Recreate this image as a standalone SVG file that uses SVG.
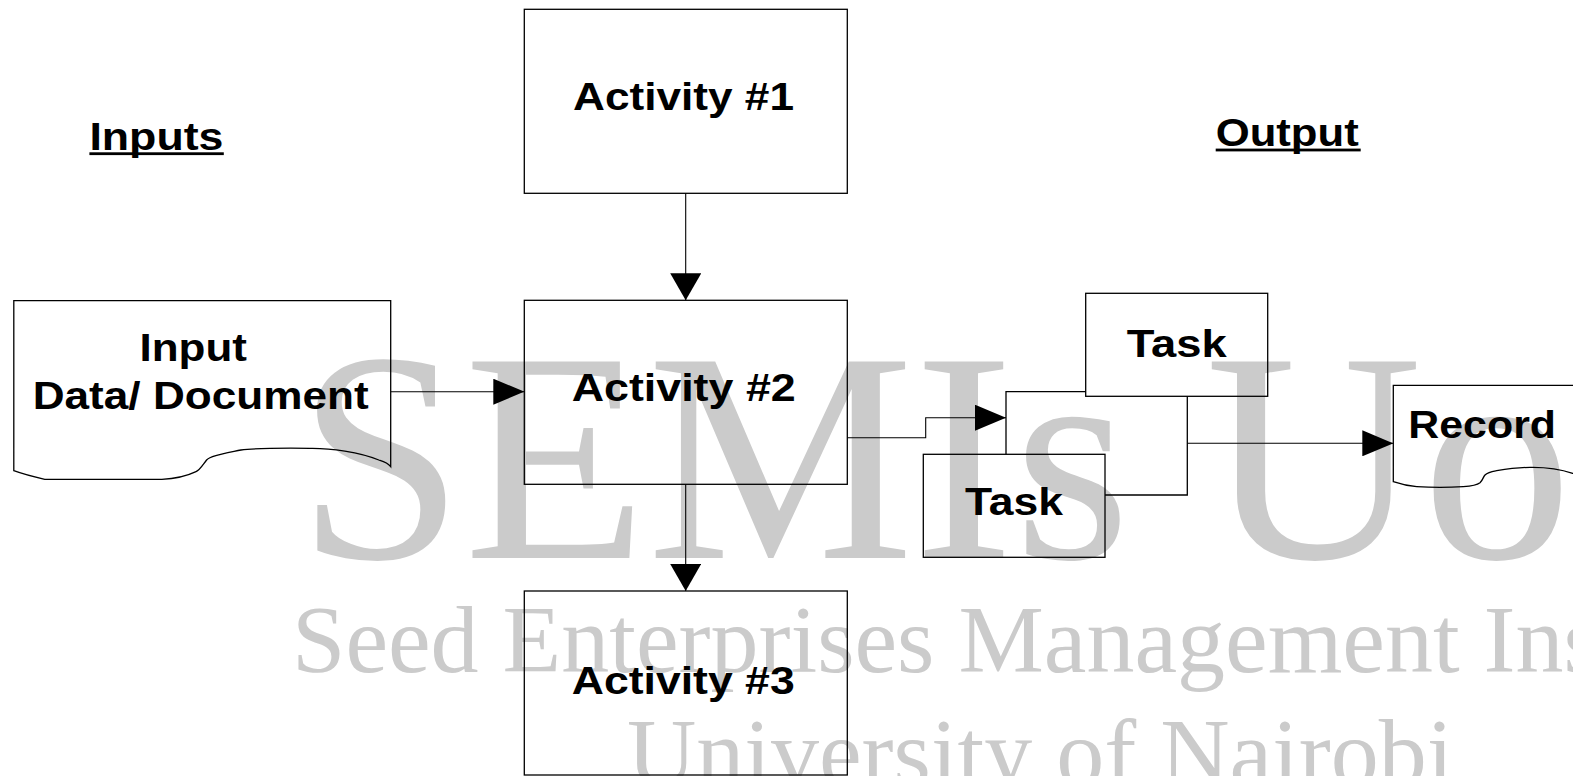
<svg xmlns="http://www.w3.org/2000/svg" width="1573" height="776" viewBox="0 0 1573 776">
  <style>
    .box { fill: none; stroke: #000; stroke-width: 1.3; }
    .conn { fill: none; stroke: #000; stroke-width: 1.1; }
    .lbl { font-family: "Liberation Sans", Arial, sans-serif; font-weight: bold; font-size: 38px; fill: #000; }
    .head { font-family: "Liberation Sans", Arial, sans-serif; font-weight: bold; font-size: 38px; fill: #000; }
    .uline { fill: #000; }
    .wm { font-family: "Liberation Serif", "Times New Roman", serif; fill: #cbcbcb; }
  </style>
  <defs>
    <marker id="arrowH" markerUnits="userSpaceOnUse" viewBox="0 0 31 26" markerWidth="31" markerHeight="26" refX="31" refY="13" orient="auto">
      <path d="M0,0 L31,13 L0,26 Z" fill="#000"/>
    </marker>
    <marker id="arrowV" markerUnits="userSpaceOnUse" viewBox="0 0 27 31" markerWidth="27" markerHeight="31" refX="27" refY="15.5" orient="auto">
      <path d="M0,0 L27,15.5 L0,31 Z" fill="#000"/>
    </marker>
  </defs>
  <rect width="1573" height="776" fill="#fff"/>

  <g id="watermark">
    <text class="wm" x="297" y="558" font-size="300">SEMIs UoN</text>
    <text class="wm" x="292" y="672" font-size="96">Seed Enterprises Management Ins</text>
    <text class="wm" x="627" y="785" font-size="96">University of Nairobi</text>
  </g>

  <g id="heading-inputs">
    <text class="head" x="89.4" y="150" textLength="134" lengthAdjust="spacingAndGlyphs">Inputs</text>
    <rect class="uline" x="89.4" y="152.3" width="134.4" height="2.8"/>
  </g>
  <g id="heading-output">
    <text class="head" x="1215.7" y="146" textLength="143" lengthAdjust="spacingAndGlyphs">Output</text>
    <rect class="uline" x="1215.7" y="148.6" width="145" height="2.8"/>
  </g>

  <g id="connectors">
    <path class="conn" d="M685.7,193.3 V300.3" marker-end="url(#arrowV)"/>
    <path class="conn" d="M685.7,484.3 V591" marker-end="url(#arrowV)"/>
    <path class="conn" d="M390.7,391.7 H524.3" marker-end="url(#arrowH)"/>
    <path class="conn" d="M847.3,437.7 H925.7 V417.7 H1006" marker-end="url(#arrowH)"/>
    <path class="conn" d="M1187.3,443.3 H1393.3" marker-end="url(#arrowH)"/>
  </g>

  <g id="activity1">
    <rect class="box" x="524.3" y="9.3" width="323" height="184"/>
    <text class="lbl" x="573" y="110" textLength="221" lengthAdjust="spacingAndGlyphs">Activity #1</text>
  </g>
  <g id="activity2">
    <rect class="box" x="524.3" y="300.3" width="323" height="184"/>
    <text class="lbl" x="571.7" y="401" textLength="224" lengthAdjust="spacingAndGlyphs">Activity #2</text>
  </g>
  <g id="activity3">
    <rect class="box" x="524.3" y="591" width="323" height="184"/>
    <text class="lbl" x="571.7" y="694" textLength="223" lengthAdjust="spacingAndGlyphs">Activity #3</text>
  </g>

  <g id="input-document">
    <path class="box" d="M13.8,300.7 H390.7 V466.7 C387,462 382,461 378.8,460 C360,452 330,448 310,448.3 C280,448 255,448 241,450 C222,454 210,456 206.6,460 C202,466 200,470 196,471.7 C185,477 170,479 161.8,479.3 L44.8,479.3 C30,476 20,473 13.8,470.7 Z"/>
    <text class="lbl" x="139.5" y="361" textLength="107.5" lengthAdjust="spacingAndGlyphs">Input</text>
    <text class="lbl" x="32.7" y="408.5" textLength="336" lengthAdjust="spacingAndGlyphs">Data/ Document</text>
  </g>

  <g id="task-stack-middle">
    <path class="box" d="M1006,454.3 V391.7 H1085.7 M1187.3,396.3 V495 H1105"/>
  </g>
  <g id="task-top">
    <rect class="box" x="1085.7" y="293.3" width="182" height="103"/>
    <text class="lbl" x="1126.7" y="356.7" textLength="100" lengthAdjust="spacingAndGlyphs">Task</text>
  </g>
  <g id="task-bottom">
    <rect class="box" x="923.3" y="454.3" width="181.7" height="103"/>
    <text class="lbl" x="965" y="515" textLength="98" lengthAdjust="spacingAndGlyphs">Task</text>
  </g>

  <g id="record">
    <path class="box" d="M1600,385.3 H1393.3 V481.7 C1400,484 1408,486 1416.7,486.7 C1430,487.5 1450,487.5 1463.3,486.7 C1472,486 1477,485 1480,482.7 C1483,480 1483,477 1485,475 C1488,472 1492,471.5 1496.7,470.7 C1510,468.5 1520,467.5 1530,467.3 C1548,467 1560,469 1572.7,473.3 L1600,480"/>
    <text class="lbl" x="1408.3" y="438.3" textLength="147.7" lengthAdjust="spacingAndGlyphs">Record</text>
  </g>
</svg>
